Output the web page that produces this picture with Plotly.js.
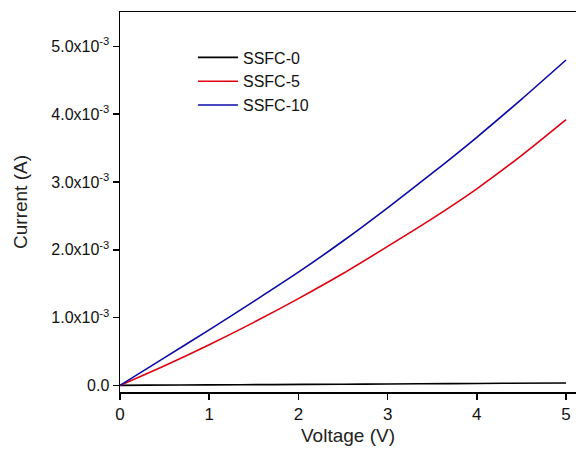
<!DOCTYPE html>
<html>
<head>
<meta charset="utf-8">
<script src="https://cdn.plot.ly/plotly-3.0.1.min.js"></script>
<style>html,body{margin:0;padding:0;background:#fff;overflow:hidden}</style>
</head>
<body>
<div id="chart" style="width:576px;height:450px"></div>
<script>
const seriesNames = ["SSFC-0", "SSFC-5", "SSFC-10"];
const seriesColors = ["#000000", "#e0000f", "#0a0aa8"];

const v0 = [0, 0.3, 1.0, 1.7, 2.5, 3.0, 3.7, 4.3, 5.0];
const i0 = [0, 0.004e-3, 0.008e-3, 0.012e-3, 0.017e-3, 0.021e-3, 0.026e-3, 0.031e-3, 0.035e-3];

const v5 = [0, 0.5, 1.0, 1.5, 2.0, 2.5, 3.0, 3.5, 4.0, 4.5, 5.0];
const i5 = [0, 0.29e-3, 0.60e-3, 0.93e-3, 1.28e-3, 1.65e-3, 2.05e-3, 2.46e-3, 2.90e-3, 3.39e-3, 3.92e-3];

const v10 = [0, 0.5, 1.0, 1.5, 2.0, 2.5, 3.0, 3.5, 4.0, 4.5, 5.0];
const i10 = [0, 0.41e-3, 0.82e-3, 1.24e-3, 1.67e-3, 2.13e-3, 2.62e-3, 3.13e-3, 3.66e-3, 4.22e-3, 4.80e-3];

const yTickVals = [0, 1e-3, 2e-3, 3e-3, 4e-3, 5e-3];
const yTickText = ["0.0", "1.0x10<sup>-3</sup>", "2.0x10<sup>-3</sup>", "3.0x10<sup>-3</sup>", "4.0x10<sup>-3</sup>", "5.0x10<sup>-3</sup>"];
const xTickVals = [0, 1, 2, 3, 4, 5];

const xs = [v0, v5, v10];
const ys = [i0, i5, i10];

const traces = seriesNames.map((n, k) => ({
  x: xs[k], y: ys[k], name: n, type: "scatter", mode: "lines",
  line: {color: seriesColors[k], width: 1.6, shape: "spline", smoothing: 0.8}
}));

const fontFam = "Liberation Sans, Arial, sans-serif";
const layout = {
  width: 576, height: 450,
  margin: {l: 120, r: 0, t: 12, b: 58},
  paper_bgcolor: "#fff", plot_bgcolor: "#fff",
  showlegend: true,
  legend: {x: 0.16, y: 0.925, xanchor: "left", yanchor: "top",
    bgcolor: "rgba(0,0,0,0)", font: {family: fontFam, size: 16, color: "#111"},
    tracegroupgap: 0, itemwidth: 40},
  xaxis: {
    range: [0, 5.112], tickvals: xTickVals, ticktext: xTickVals.map(String),
    showgrid: false, zeroline: false, showline: true, linecolor: "#000", linewidth: 1.5,
    mirror: true, ticks: "outside", ticklen: 6, tickwidth: 1.5, tickcolor: "#000",
    tickfont: {family: fontFam, size: 17, color: "#111"},
    title: {text: "Voltage (V)", font: {family: fontFam, size: 19, color: "#222"}, standoff: 6}
  },
  yaxis: {
    range: [-0.0974e-3, 5.508e-3], tickvals: yTickVals, ticktext: yTickText,
    showgrid: false, zeroline: false, showline: true, linecolor: "#000", linewidth: 1.5,
    mirror: false, ticks: "outside", ticklen: 6, tickwidth: 1.5, tickcolor: "#000",
    tickfont: {family: fontFam, size: 16, color: "#111"},
    title: {text: "Current (A)", font: {family: fontFam, size: 19, color: "#222"}, standoff: 18}
  }
};

Plotly.newPlot("chart", traces, layout, {displayModeBar: false, staticPlot: true});
</script>
</body>
</html>
